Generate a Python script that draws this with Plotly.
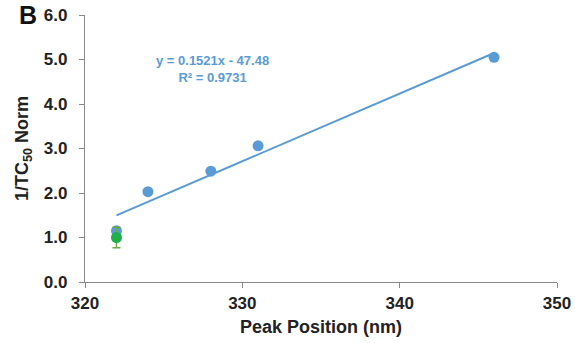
import plotly.graph_objects as go

# Peak position (nm) vs normalised 1/TC50
peak_nm = [322, 324, 328, 331, 346]
inv_tc50 = [1.15, 2.03, 2.49, 3.06, 5.05]

# Reference compound with error bar
ref_nm = [322]
ref_val = [1.0]
ref_err = [0.23]

# Linear fit
slope = 0.1521
intercept = -47.48
r_squared = 0.9731
fit_x = [min(peak_nm), max(peak_nm)]
fit_y = [slope * x + intercept for x in fit_x]

x_ticks = [320, 330, 340, 350]
y_ticks = [0, 1, 2, 3, 4, 5, 6]

blue = "#5B9BD5"
green = "#1FAF4B"
font_family = "Liberation Sans, Arial, sans-serif"

fig = go.Figure()
fig.add_trace(go.Scatter(x=fit_x, y=fit_y, mode="lines",
                         line=dict(color=blue, width=2), hoverinfo="skip"))
fig.add_trace(go.Scatter(x=peak_nm, y=inv_tc50, mode="markers",
                         marker=dict(color=blue, size=11)))
fig.add_trace(go.Scatter(x=ref_nm, y=ref_val, mode="markers",
                         marker=dict(color=green, size=11),
                         error_y=dict(type="data", array=ref_err, color="#6DAA3C",
                                      thickness=1.5, width=4)))

fig.add_annotation(x=328.1, y=4.79, xref="x", yref="y",
                   text=f"y = {slope}x - {abs(intercept)}<br>R² = {r_squared}",
                   showarrow=False, align="center",
                   font=dict(family=font_family, size=13, color=blue, weight="bold"))
fig.add_annotation(x=-68 / 472, y=1.0, xref="paper", yref="paper",
                   xanchor="left", yanchor="middle", text="B", showarrow=False,
                   font=dict(family=font_family, size=25, color="#111", weight="bold"))

axis_common = dict(showline=True, linecolor="#888", linewidth=1.2, ticks="outside",
                   ticklen=5, tickcolor="#888", showgrid=False, zeroline=False,
                   automargin=False,
                   tickfont=dict(family=font_family, size=17, color="#222", weight="bold"))

fig.update_layout(
    width=575, height=343,
    margin=dict(l=85, r=18, t=15, b=61),
    paper_bgcolor="white", plot_bgcolor="white",
    showlegend=False,
    xaxis=dict(range=[320, 350], tickvals=x_ticks, ticktext=[str(v) for v in x_ticks],
               title=dict(text="Peak Position (nm)", standoff=8,
                          font=dict(family=font_family, size=18, color="#222", weight="bold")),
               **axis_common),
    yaxis=dict(range=[0, 6], tickvals=y_ticks, ticktext=[f"{v:.1f}" for v in y_ticks],
               ticklabelstandoff=8,
               title=dict(text="1/TC<sub>50</sub> Norm", standoff=10,
                          font=dict(family=font_family, size=18, color="#222", weight="bold")),
               **axis_common),
)

fig.write_html("out.html")
